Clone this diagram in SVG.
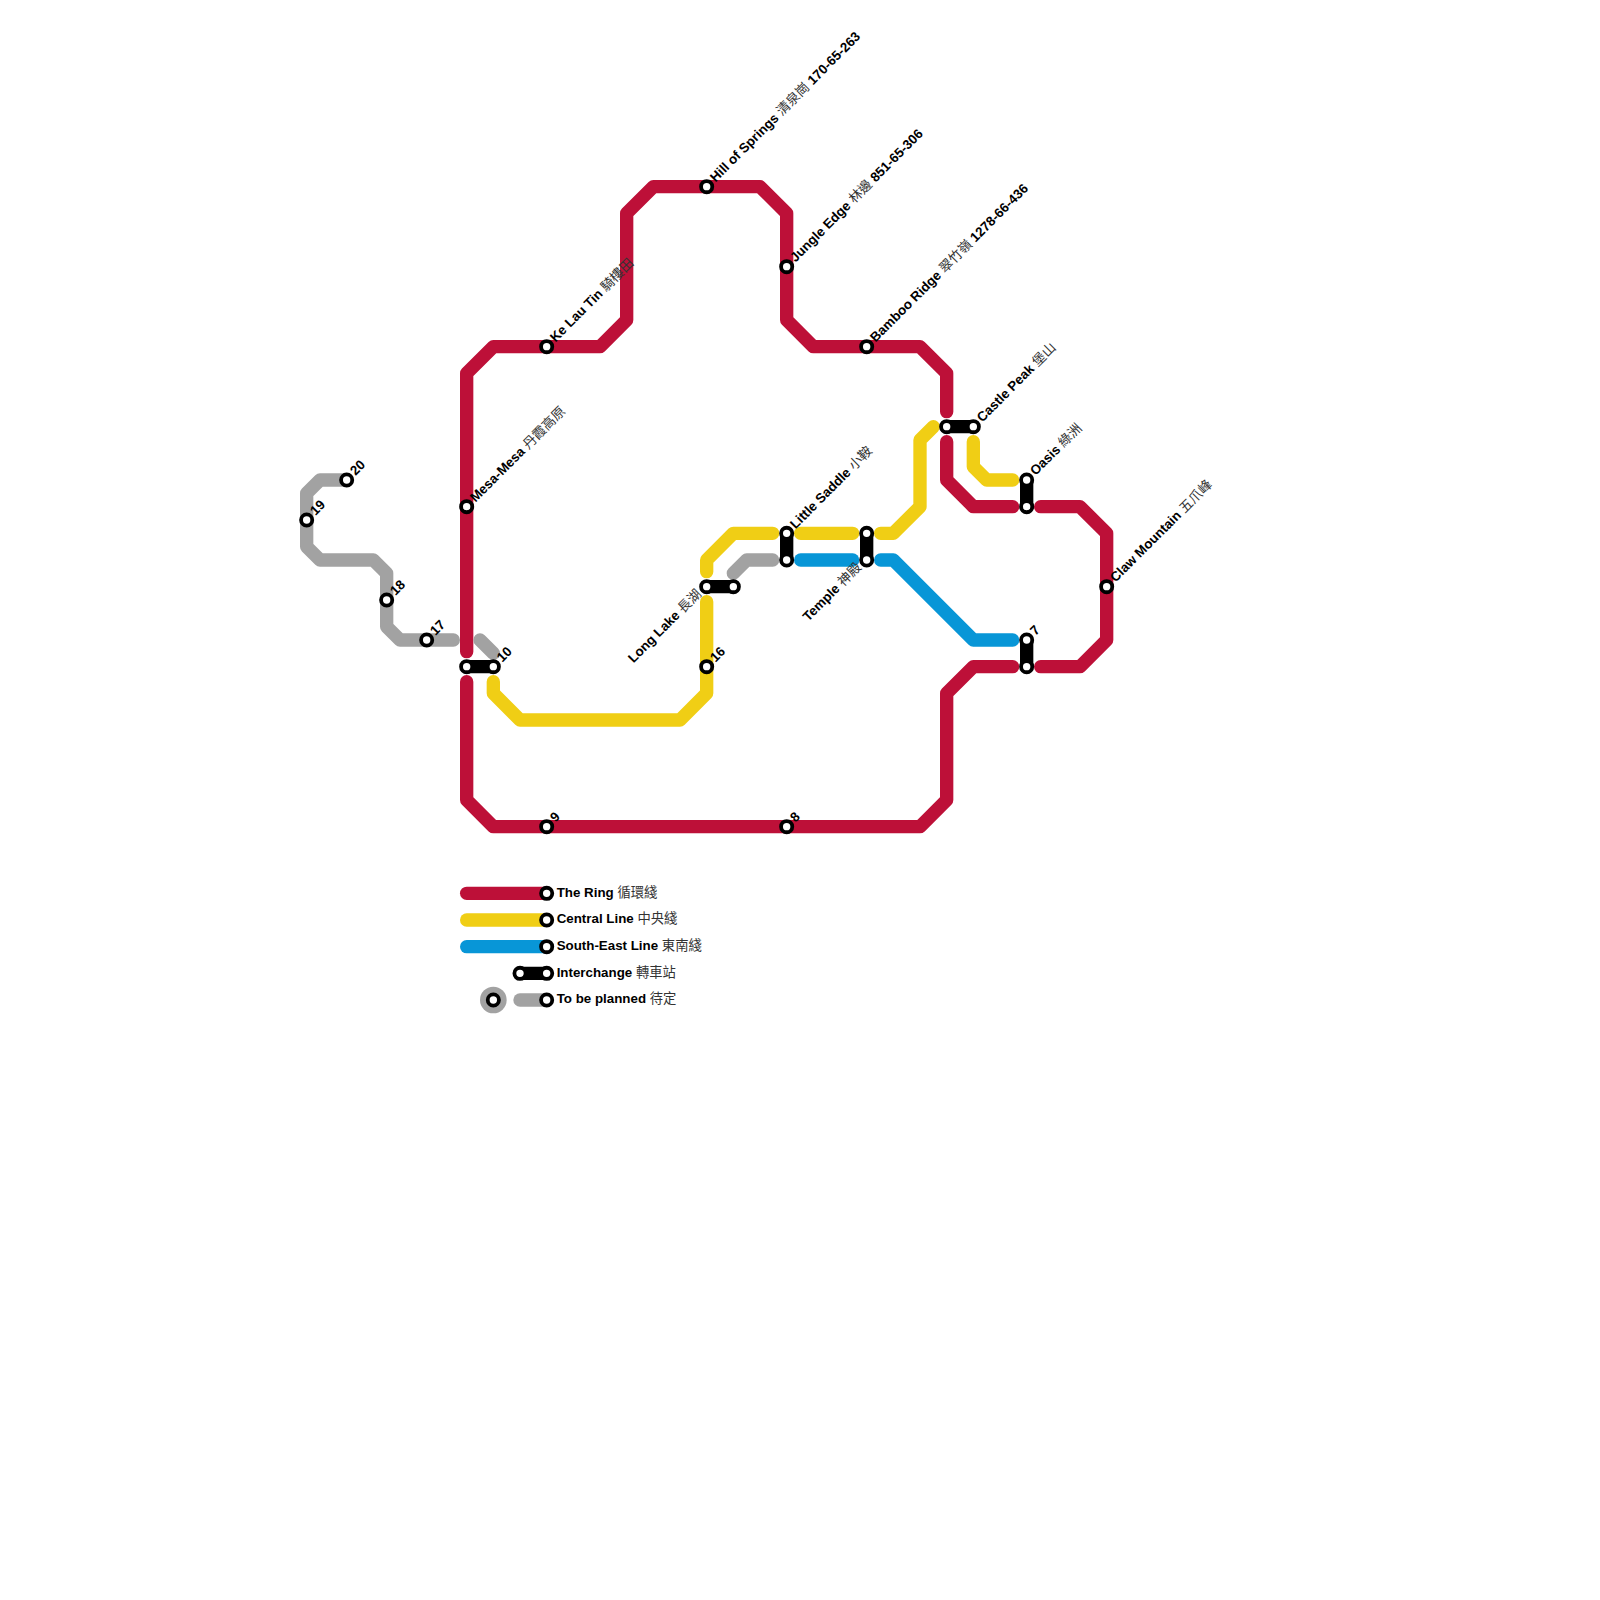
<svg xmlns="http://www.w3.org/2000/svg" width="1600" height="1600" viewBox="0 0 1600 1600">
<style>
.l{fill:none;stroke-width:13.33;stroke-linecap:round;stroke-linejoin:round}
.r{stroke:#bd1038}.y{stroke:#f0ce15}.b{stroke:#0896d7}.g{stroke:#a2a2a2}.k{stroke:#000}
.s{fill:#fff;stroke:#000;stroke-width:3.8}
text{font-family:"Liberation Sans","Noto Sans CJK TC",sans-serif;font-size:13.33px;font-weight:700;fill:#000}
.c{font-family:"Noto Sans CJK TC","Liberation Sans",sans-serif;font-weight:400;fill:#333}
</style>
<rect width="1600" height="1600" fill="#fff"/>
<g id="connectors">
<path class="l r" d="M466.67 651.67V373.33L493.33 346.67H600L626.67 320V213.33L653.33 186.67H760L786.67 213.33V320L813.33 346.67H920L946.67 373.33V411.67"/>
<path class="l r" d="M946.67 441.67V480L973.33 506.67H1012.67"/>
<path class="l r" d="M1040.67 506.67H1080L1106.67 533.33V640L1080 666.67H1040.67"/>
<path class="l r" d="M1012.67 666.67H973.33L946.67 693.33V800L920 826.67H493.33L466.67 800V681.67"/>
<path class="l y" d="M933.33 426.67L920 440V506.67L893.33 533.33H880.67"/>
<path class="l y" d="M852.67 533.33H800.67"/>
<path class="l y" d="M772.67 533.33H733.33L706.67 560V571.67"/>
<path class="l y" d="M706.67 601.67V693.33L680 720H520L493.33 693.33V681.67"/>
<path class="l y" d="M973.33 441.67V466.67L986.67 480H1012.67"/>
<path class="l b" d="M800.67 560H852.67"/>
<path class="l b" d="M880.67 560H893.33L973.33 640H1012.67"/>
<path class="l g" d="M346.67 480H320L306.67 493.33V546.67L320 560H373.33L386.67 573.33V626.67L400 640H453.33"/>
<path class="l g" d="M480 640L493.33 653.33"/>
<path class="l g" d="M733.33 573.33L746.67 560H772.67"/>
<path class="l k" d="M466.67 666.67H493.33"/>
<path class="l k" d="M706.67 586.67H733.33"/>
<path class="l k" d="M786.67 533.33V560"/>
<path class="l k" d="M866.67 533.33V560"/>
<path class="l k" d="M946.67 426.67H973.33"/>
<path class="l k" d="M1026.67 480V506.67"/>
<path class="l k" d="M1026.67 640V666.67"/>
<path class="l r" d="M466.67 893.33H546.67"/>
<path class="l y" d="M466.67 920H546.67"/>
<path class="l b" d="M466.67 946.67H546.67"/>
<path class="l k" d="M520 973.33H546.67"/>
<path class="l g" d="M520 1000H546.67"/>
</g>
<g id="hill-of-springs" transform="translate(706.67 186.67)"><circle class="s" r="5.6"/><text transform="rotate(-45)" x="9" y="3.5">Hill of Springs <tspan class="c">清泉崗</tspan> 170-65-263</text></g>
<g id="jungle-edge" transform="translate(786.67 266.67)"><circle class="s" r="5.6"/><text transform="rotate(-45)" x="9" y="3.5">Jungle Edge <tspan class="c">林邊</tspan> 851-65-306</text></g>
<g id="bamboo-ridge" transform="translate(866.67 346.67)"><circle class="s" r="5.6"/><text transform="rotate(-45)" x="9" y="3.5">Bamboo Ridge <tspan class="c">翠竹嶺</tspan> 1278-66-436</text></g>
<g id="ke-lau-tin" transform="translate(546.67 346.67)"><circle class="s" r="5.6"/><text transform="rotate(-45)" x="9" y="3.5">Ke Lau Tin <tspan class="c">騎樓田</tspan></text></g>
<g id="mesa-mesa" transform="translate(466.67 506.67)"><circle class="s" r="5.6"/><text transform="rotate(-45)" x="9" y="3.5">Mesa-Mesa <tspan class="c">丹霞高原</tspan></text></g>
<g id="claw-mountain" transform="translate(1106.67 586.67)"><circle class="s" r="5.6"/><text transform="rotate(-45)" x="9" y="3.5">Claw Mountain <tspan class="c">五爪峰</tspan></text></g>
<g id="castle-peak"><circle class="s" cx="946.67" cy="426.67" r="5.6"/><g transform="translate(973.33 426.67)"><circle class="s" r="5.6"/><text transform="rotate(-45)" x="9" y="3.5">Castle Peak <tspan class="c">堡山</tspan></text></g></g>
<g id="oasis"><circle class="s" cx="1026.67" cy="506.67" r="5.6"/><g transform="translate(1026.67 480)"><circle class="s" r="5.6"/><text transform="rotate(-45)" x="9" y="3.5">Oasis <tspan class="c">綠洲</tspan></text></g></g>
<g id="little-saddle"><circle class="s" cx="786.67" cy="560" r="5.6"/><g transform="translate(786.67 533.33)"><circle class="s" r="5.6"/><text transform="rotate(-45)" x="9" y="3.5">Little Saddle <tspan class="c">小鞍</tspan></text></g></g>
<g id="temple"><circle class="s" cx="866.67" cy="533.33" r="5.6"/><g transform="translate(866.67 560)"><circle class="s" r="5.6"/><text transform="rotate(-45)" x="-9" y="2.5" text-anchor="end">Temple <tspan class="c">神殿</tspan></text></g></g>
<g id="long-lake"><circle class="s" cx="733.33" cy="586.67" r="5.6"/><g transform="translate(706.67 586.67)"><circle class="s" r="5.6"/><text transform="rotate(-45)" x="-9" y="2.5" text-anchor="end">Long Lake <tspan class="c">長湖</tspan></text></g></g>
<g id="st-7"><circle class="s" cx="1026.67" cy="666.67" r="5.6"/><g transform="translate(1026.67 640)"><circle class="s" r="5.6"/><text transform="rotate(-45)" x="9" y="3.5">7</text></g></g>
<g id="st-8" transform="translate(786.67 826.67)"><circle class="s" r="5.6"/><text transform="rotate(-45)" x="9" y="3.5">8</text></g>
<g id="st-9" transform="translate(546.67 826.67)"><circle class="s" r="5.6"/><text transform="rotate(-45)" x="9" y="3.5">9</text></g>
<g id="st-10"><circle class="s" cx="466.67" cy="666.67" r="5.6"/><g transform="translate(493.33 666.67)"><circle class="s" r="5.6"/><text transform="rotate(-45)" x="9" y="3.5">10</text></g></g>
<g id="st-16" transform="translate(706.67 666.67)"><circle class="s" r="5.6"/><text transform="rotate(-45)" x="9" y="3.5">16</text></g>
<g id="st-17" transform="translate(426.67 640)"><circle class="s" r="5.6"/><text transform="rotate(-45)" x="9" y="3.5">17</text></g>
<g id="st-18" transform="translate(386.67 600)"><circle class="s" r="5.6"/><text transform="rotate(-45)" x="9" y="3.5">18</text></g>
<g id="st-19" transform="translate(306.67 520)"><circle class="s" r="5.6"/><text transform="rotate(-45)" x="9" y="3.5">19</text></g>
<g id="st-20" transform="translate(346.67 480)"><circle class="s" r="5.6"/><text transform="rotate(-45)" x="9" y="3.5">20</text></g>
<g id="legend-ring" transform="translate(546.67 893.33)"><circle class="s" r="5.6"/><text x="10" y="3.3">The Ring <tspan class="c">循環綫</tspan></text></g>
<g id="legend-central" transform="translate(546.67 920)"><circle class="s" r="5.6"/><text x="10" y="3.3">Central Line <tspan class="c">中央綫</tspan></text></g>
<g id="legend-south-east" transform="translate(546.67 946.67)"><circle class="s" r="5.6"/><text x="10" y="3.3">South-East Line <tspan class="c">東南綫</tspan></text></g>
<g id="legend-interchange"><circle class="s" cx="520" cy="973.33" r="5.6"/><g transform="translate(546.67 973.33)"><circle class="s" r="5.6"/><text x="10" y="3.3">Interchange <tspan class="c">轉車站</tspan></text></g></g>
<g id="legend-planned"><circle cx="493.33" cy="1000" r="13.33" fill="#a2a2a2"/><circle class="s" cx="493.33" cy="1000" r="5.6"/><g transform="translate(546.67 1000)"><circle class="s" r="5.6"/><text x="10" y="3.3">To be planned <tspan class="c">待定</tspan></text></g></g>
</svg>
